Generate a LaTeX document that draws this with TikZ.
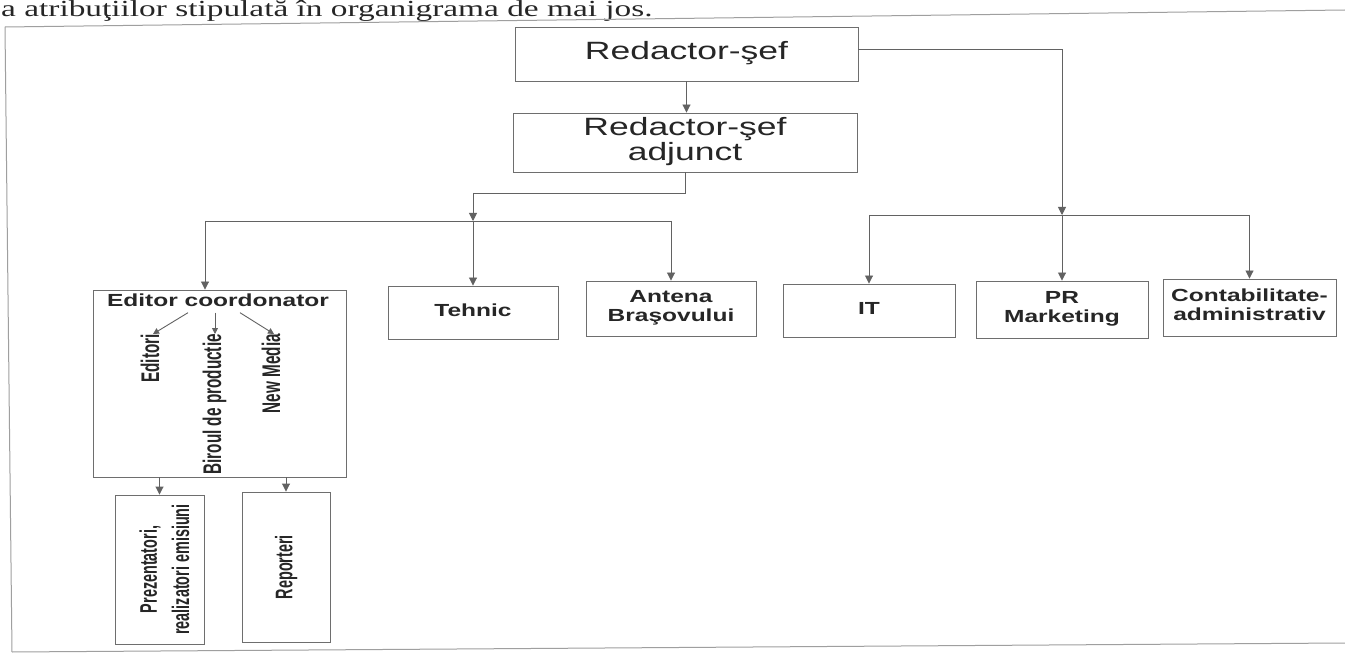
\documentclass[tikz,border=0pt]{standalone}
\usepackage{fontspec}
\setmainfont{Liberation Sans}
\newfontfamily\serifont{Liberation Serif}
\usetikzlibrary{arrows.meta,calc}
\definecolor{linec}{HTML}{626262}
\definecolor{boxc}{HTML}{6E6E6E}
\definecolor{txtc}{HTML}{262626}
\newcommand{\stx}[2][1.4]{\scalebox{#1}[1]{\begin{tabular}{@{}c@{}}#2\end{tabular}}}
\newcommand{\rtx}[2][0.9]{\rotatebox{90}{\scalebox{#1}[1.5]{\begin{tabular}{@{}c@{}}#2\end{tabular}}}}
\begin{document}
\begin{tikzpicture}[x=1pt,y=-1pt,
 box/.style={draw=boxc, line width=0.9pt, inner sep=0pt, text=txtc},
 bigf/.style={font=\fontsize{25}{24}\selectfont},
 boldf/.style={font=\fontsize{17.5}{19}\selectfont\bfseries},
 rfont/.style={font=\fontsize{17}{20}\selectfont\bfseries, text=txtc},
 bfont/.style={font=\fontsize{16}{21.5}\selectfont\bfseries},
 arr/.style={draw=linec, line width=0.9pt, -{Triangle[length=8pt,width=8pt]}},
 ln/.style={draw=linec, line width=0.9pt},
 sarr/.style={draw=linec, line width=0.9pt, -{Triangle[length=6pt,width=6pt]}},
 frm/.style={draw=gray!75, line width=1pt}
]
\useasboundingbox (0,0) rectangle (1345,655);
\clip (0,0) rectangle (1345,655);
\fill[white] (0,0) rectangle (1345,655);

% line of page text above the chart
\node[anchor=base west, inner sep=0pt, text=txtc, font=\serifont\fontsize{23}{23}\selectfont] (hdr) at (1,17) {\scalebox{1.45}[1]{a atribuţiilor stipulată în organigrama de mai jos.}};

% frame
\draw[frm] (5,27) -- (1345,10);
\draw[frm] (5,27) -- (12,652);
\draw[frm] (12,652) -- (1345,643);

% boxes
\node[box, minimum width=343pt, minimum height=54pt, bigf] (rs) at (686.5,54) {\stx[1.42]{Redactor-şef}};
\node[box, minimum width=344pt, minimum height=59pt, bigf] (rsa) at (685,142.5) {\stx[1.42]{Redactor-şef\\adjunct}};

\node[box, minimum width=253pt, minimum height=187pt] (ec) at (219.5,383.5) {};
\node[inner sep=0pt, text=txtc, boldf] (ect) at (218,303) {\stx{Editor coordonator}};
\node[inner sep=0pt, anchor=north, rfont] (edt) at (153,334) {\rtx{Editori}};
\node[inner sep=0pt, anchor=north, rfont] (bir) at (215,334) {\rtx{Biroul de productie}};
\node[inner sep=0pt, anchor=north, rfont] (nm) at (274,334) {\rtx{New Media}};

\node[box, minimum width=170pt, minimum height=53pt, boldf] (teh) at (473,312.5) {\stx{Tehnic}};
\node[box, minimum width=170pt, minimum height=55pt, boldf] (ant) at (671,308.5) {\stx{Antena\\Braşovului}};
\node[box, minimum width=172pt, minimum height=53pt, boldf] (it) at (869,310.5) {\stx{IT}};
\node[box, minimum width=172pt, minimum height=57pt, boldf] (pr) at (1062,309.5) {\stx{PR\\Marketing}};
\node[box, minimum width=173pt, minimum height=57pt, boldf] (cont) at (1249.5,307.5) {\stx{Contabilitate-\\administrativ}};

\node[box, minimum width=89pt, minimum height=149pt, bfont] (prez) at (159.5,569.5) {\hspace*{14pt}\rtx{Prezentatori,\\realizatori emisiuni}};
\node[box, minimum width=88pt, minimum height=150pt, bfont] (rep) at (286,567) {\rtx{Reporteri}};

% connectors top
\draw[arr] (rs.south) -- (rs.south |- rsa.north);

\coordinate (b2) at (1062,215);
\draw[arr] ([yshift=5pt]rs.east) -| (b2);
\draw[ln] (it.north |- b2) -- (cont.north |- b2);
\draw[arr] (it.north |- b2) -- (it.north);
\draw[arr] (b2) -- (pr.north);
\draw[arr] (cont.north |- b2) -- (cont.north);

\coordinate (j1) at (473,193);
\coordinate (b1) at (473,221);
\coordinate (b1l) at (205,221);
\draw[ln] (rsa.south) |- (j1);
\draw[arr] (j1) -- (b1);
\draw[ln] (b1l) -- (ant.north |- b1);
\draw[arr] (b1l) -- (b1l |- ec.north);
\draw[arr] (b1) -- (teh.north);
\draw[arr] (ant.north |- b1) -- (ant.north);

% inside editor box
\draw[sarr] ($(ect.south)+(-30,0)$) -- (edt.north);
\draw[sarr] (bir.north |- ect.south) -- (bir.north);
\draw[sarr] ($(ect.south)+(22,0)$) -- (nm.north);

% bottom
\draw[arr] (prez.north |- ec.south) -- (prez.north);
\draw[arr] (rep.north |- ec.south) -- (rep.north);
\end{tikzpicture}
\end{document}
